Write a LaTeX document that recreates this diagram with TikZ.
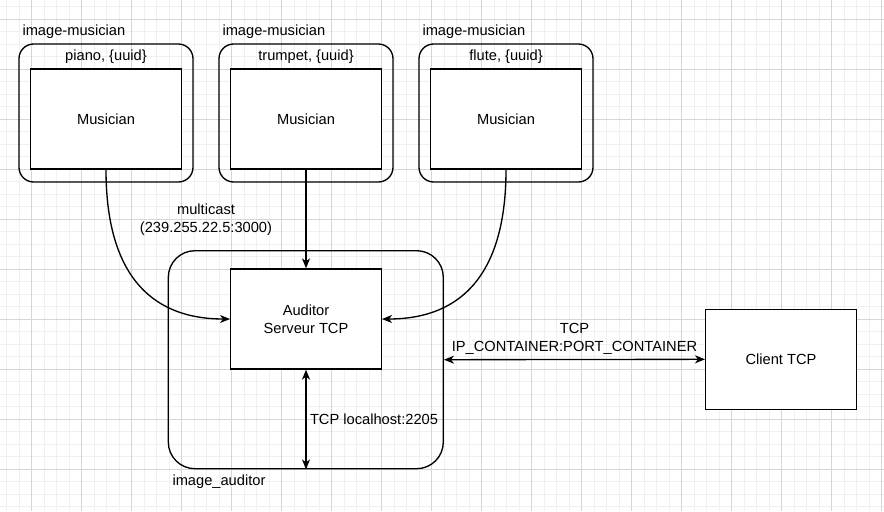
\documentclass[tikz,border=0pt]{standalone}
\usepackage{fontspec}
\setmainfont{Liberation Sans}
\usetikzlibrary{arrows.meta}

\definecolor{gridminor}{RGB}{240,240,240}
\definecolor{gridmajor}{RGB}{214,214,214}

\tikzset{every picture/.style={line width=0.75pt}}
\tikzset{
  txt/.style={inner sep=0.75pt, font=\fontsize{11}{13.5}\selectfont},
  box/.style={draw, line width=1pt, fill=white, minimum width=113pt, minimum height=75pt, inner sep=0pt, align=center, font=\fontsize{11}{13.5}\selectfont},
  musicianwrap/.style={draw, line width=1pt, rounded corners=11pt, minimum width=130.5pt, minimum height=103.5pt, inner sep=0pt},
  auditorwrap/.style={draw, line width=1pt, rounded corners=20pt, minimum width=206.25pt, minimum height=163.5pt, inner sep=0pt},
  flow/.style={line width=1pt, -{Stealth[length=7.5pt,width=6pt,inset=2.2pt]}},
  twoway/.style={line width=1pt, {Stealth[length=7.5pt,width=6pt,inset=2.2pt]}-{Stealth[length=7.5pt,width=6pt,inset=2.2pt]}},
}

\begin{document}
\begin{tikzpicture}[x=0.75pt,y=0.75pt,yscale=-1,xscale=1]
\useasboundingbox (0,0) rectangle (884,511);

%Grid
\fill[white] (0,0) rectangle (884,511);
\foreach \i in {0,...,70} \draw[gridminor] ({6.7+12.5*\i},0) -- ({6.7+12.5*\i},511);
\foreach \j in {0,...,40} \draw[gridminor] (0,{6.8+12.5*\j}) -- (884,{6.8+12.5*\j});
\foreach \i in {0,...,17} \draw[gridmajor] ({31.7+50*\i},0) -- ({31.7+50*\i},511);
\foreach \j in {0,...,9} \draw[gridmajor] (0,{19.3+50*\j}) -- (884,{19.3+50*\j});

%Shape: Rounded Rect (containers)
\node[musicianwrap] (imgpiano) at (106,113) {};
\node[musicianwrap] (imgtrumpet) at (306,113) {};
\node[musicianwrap] (imgflute) at (506,113) {};
\node[auditorwrap] (imgauditor) at (305.8,359.7) {};

%Shape: Rectangle
\node[box] (piano) at (106,119) {Musician};
\node[box] (trumpet) at (306,119) {Musician};
\node[box] (flute) at (506,119) {Musician};
\node[box] (auditor) at (306,319) {Auditor\\Serveur TCP};
\node[box] (client) at (781,359.3) {Client TCP};

%Curve Lines
\draw[flow] (piano.south) .. controls +(0,100) and +(-83,0) .. (auditor.west);
\draw[flow] (flute.south) .. controls +(0,100) and +(83,0) .. (auditor.east);
%Straight Lines
\draw[flow] (trumpet.south) -- (auditor.north);
\draw[twoway] (auditor.south) -- node[txt, right, inner sep=2.5pt] {TCP localhost:2205} (auditor.south |- imgauditor.south);
\draw[twoway] (imgauditor.east) -- node[txt, above, align=center, inner sep=3pt] {TCP\\IP\_CONTAINER:PORT\_CONTAINER} (client.west);

% Text Node
\node[txt, anchor=west] (tagpiano) at (21,32) {image-musician};
% Text Node
\node[txt, anchor=west] (tagtrumpet) at (221,32) {image-musician};
% Text Node
\node[txt, anchor=west] (tagflute) at (421,32) {image-musician};
% Text Node
\node[txt] (idpiano) at (106,57) {piano, \{uuid\}};
% Text Node
\node[txt] (idtrumpet) at (306,57) {trumpet, \{uuid\}};
% Text Node
\node[txt] (idflute) at (506,57) {flute, \{uuid\}};
% Text Node
\node[txt, align=center] (multicast) at (206,220) {multicast\\(239.255.22.5:3000)};
% Text Node
\node[txt, anchor=west] (tagauditor) at (171,482) {image\_auditor};

\end{tikzpicture}
\end{document}
